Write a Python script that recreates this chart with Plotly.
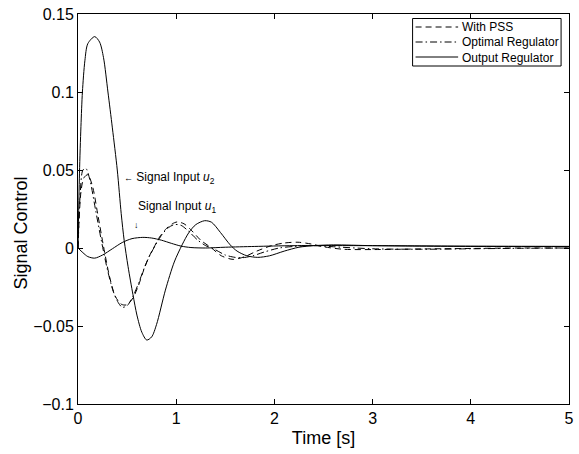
import plotly.graph_objects as go

# ---- data ----
t_pss = [0, 0.03, 0.06, 0.1, 0.15, 0.2, 0.26, 0.32, 0.38, 0.44, 0.49, 0.55, 0.61, 0.67, 0.72, 0.77,
         0.83, 0.9, 0.96, 1.01, 1.08, 1.16, 1.25, 1.36, 1.46, 1.58, 1.7, 1.82, 1.97, 2.1, 2.24,
         2.38, 2.5, 2.7, 3.0, 3.5, 4.0, 4.5, 5.0]
y_pss = [0, 0.036, 0.045, 0.047, 0.039, 0.022, 0.001, -0.018, -0.031, -0.036, -0.0365, -0.033,
         -0.025, -0.014, -0.006, 0.0, 0.007, 0.0125, 0.0155, 0.0167, 0.0155, 0.011, 0.005, 0.0,
         -0.005, -0.0073, -0.0055, -0.002, 0.0015, 0.0032, 0.0037, 0.0025, 0.0008, -0.0008,
         -0.001, -0.0006, -0.0003, 0.0, 0.0]

t_opt = [0, 0.02, 0.05, 0.08, 0.12, 0.18, 0.24, 0.3, 0.36, 0.41, 0.45, 0.5, 0.56, 0.62, 0.68,
         0.73, 0.79, 0.86, 0.92, 0.98, 1.05, 1.13, 1.22, 1.3, 1.38, 1.5, 1.6, 1.68, 1.78, 1.9,
         2.05, 2.2, 2.4, 2.6, 3.0, 3.5, 4.0, 4.5, 5.0]
y_opt = [0, 0.032, 0.05, 0.051, 0.044, 0.024, 0.004, -0.014, -0.028, -0.035, -0.038, -0.037,
         -0.031, -0.022, -0.012, -0.005, 0.002, 0.009, 0.013, 0.015, 0.0145, 0.0105, 0.005, 0.0015,
         -0.0005, -0.0045, -0.006, -0.0062, -0.005, -0.0025, 0.0, 0.001, 0.0015, 0.0008, -0.0005,
         -0.0008, -0.0005, -0.0002, 0.0]

t_out2 = [0, 0.015, 0.03, 0.045, 0.07, 0.1, 0.17, 0.22, 0.26, 0.305, 0.35, 0.4, 0.44, 0.47, 0.51,
          0.56, 0.6, 0.65, 0.7, 0.75, 0.8, 0.89, 0.98, 1.06, 1.13, 1.2, 1.29, 1.36, 1.45, 1.55,
          1.62, 1.72, 1.83, 1.95, 2.1, 2.25, 2.4, 2.6, 3.0, 4.0, 5.0]
y_out2 = [0, 0.048, 0.078, 0.1, 0.12, 0.131, 0.1355, 0.132, 0.122, 0.1, 0.077, 0.05, 0.022, 0.005,
          -0.012, -0.03, -0.043, -0.054, -0.059, -0.057, -0.049, -0.027, -0.009, 0.002, 0.01,
          0.015, 0.0175, 0.0165, 0.01, 0.002, -0.002, -0.005, -0.006, -0.005, -0.002, 0.0005,
          0.0015, 0.002, 0.0015, 0.001, 0.001]

t_out1 = [0, 0.05, 0.1, 0.17, 0.25, 0.35, 0.45, 0.55, 0.66, 0.75, 0.85, 0.95, 1.05, 1.15, 1.3,
          1.5, 1.8, 2.2, 3.0, 4.0, 5.0]
y_out1 = [0, -0.003, -0.0055, -0.0065, -0.0045, -0.0005, 0.0035, 0.006, 0.0068, 0.0064, 0.005,
          0.003, 0.0012, 0.0003, 0.0, 0.0005, 0.001, 0.0015, 0.0015, 0.0012, 0.001]

x_ticks = [0, 1, 2, 3, 4, 5]
y_ticks = [-0.1, -0.05, 0, 0.05, 0.1, 0.15]
y_tick_text = ["\u22120.1", "\u22120.05", "0", "0.05", "0.1", "0.15"]

legend_names = ["With PSS", "Optimal Regulator", "Output Regulator"]
legend_dashes = ["6px,4px", "7px,3px,1.5px,3px", "solid"]

FONT = "Liberation Sans, Arial, Helvetica, sans-serif"

fig = go.Figure()
fig.add_trace(go.Scatter(x=t_pss, y=y_pss, mode="lines", name=legend_names[0], showlegend=False,
                         line=dict(color="black", width=1, dash=legend_dashes[0], shape="spline", smoothing=0.8)))
fig.add_trace(go.Scatter(x=t_opt, y=y_opt, mode="lines", name=legend_names[1], showlegend=False,
                         line=dict(color="black", width=1, dash=legend_dashes[1], shape="spline", smoothing=0.8)))
fig.add_trace(go.Scatter(x=t_out2, y=y_out2, mode="lines", name=legend_names[2], showlegend=False,
                         line=dict(color="black", width=1, shape="spline", smoothing=0.8)))
fig.add_trace(go.Scatter(x=t_out1, y=y_out1, mode="lines", name=legend_names[2] + " (u1)",
                         showlegend=False,
                         line=dict(color="black", width=1, shape="spline", smoothing=0.8)))

# ---- hand-drawn legend box (compact rows like the reference) ----
PL, PR, PT, PB = 78, 574, 14, 404          # plot area in pixels
def px_x(p):
    return (p - PL) / (PR - PL)
def px_y(p):
    return (PB - p) / (PB - PT)

fig.add_shape(type="rect", xref="paper", yref="paper",
              x0=px_x(416), x1=px_x(566), y0=px_y(66), y1=px_y(18.5),
              line=dict(color="black", width=1), fillcolor="white", layer="above")
row_y = [27, 42, 57]
for name, dash, ry in zip(legend_names, legend_dashes, row_y):
    fig.add_shape(type="line", xref="paper", yref="paper",
                  x0=px_x(419), x1=px_x(462), y0=px_y(ry), y1=px_y(ry),
                  line=dict(color="black", width=1, dash=dash), layer="above")
    fig.add_annotation(x=px_x(464), y=px_y(ry + 0.5), xref="paper", yref="paper",
                       xanchor="left", yanchor="middle", text=name, showarrow=False,
                       font=dict(family=FONT, size=12, color="black"))

fig.add_annotation(x=0.444, y=0.0449, xref="x", yref="y", xanchor="left", yanchor="middle",
                   text="<span style='font-size:9px'>\u2190</span> Signal Input <i>u</i><sub>2</sub>",
                   showarrow=False, font=dict(family=FONT, size=12, color="black"))
fig.add_annotation(x=0.595, y=0.0263, xref="x", yref="y", xanchor="left", yanchor="middle",
                   text="Signal Input <i>u</i><sub>1</sub>",
                   showarrow=False, font=dict(family=FONT, size=12, color="black"))
fig.add_annotation(x=0.60, y=0.0150, xref="x", yref="y", xanchor="center", yanchor="middle",
                   text="\u2193", showarrow=False, font=dict(family=FONT, size=9, color="black"))

# y-axis title placed as in the reference (slightly below the axis centre)
fig.add_annotation(x=px_x(20), y=px_y(233), xref="paper", yref="paper",
                   xanchor="center", yanchor="middle", textangle=-90,
                   text="Signal Control", showarrow=False,
                   font=dict(family=FONT, size=18, color="black"))

axis_common = dict(showgrid=False, zeroline=False, showline=True, linecolor="black", linewidth=1,
                   mirror="ticks", ticks="inside", ticklen=5, tickcolor="black", tickwidth=1,
                   tickfont=dict(family=FONT, size=16, color="black"))

fig.update_xaxes(range=[0, 5], tickvals=x_ticks, ticktext=[str(v) for v in x_ticks],
                 title=dict(text="Time [s]", font=dict(family=FONT, size=18, color="black"), standoff=5),
                 **axis_common)
fig.update_yaxes(range=[-0.1, 0.15], tickvals=y_ticks, ticktext=y_tick_text, **axis_common)

fig.update_layout(
    width=579, height=454,
    margin=dict(l=PL, r=579 - PR, t=PT, b=454 - PB),
    paper_bgcolor="white", plot_bgcolor="white",
    font=dict(family=FONT, color="black"),
    showlegend=False,
)

fig.write_html("out.html", config={"displayModeBar": False},
               post_script="document.body.style.margin='0px';")
